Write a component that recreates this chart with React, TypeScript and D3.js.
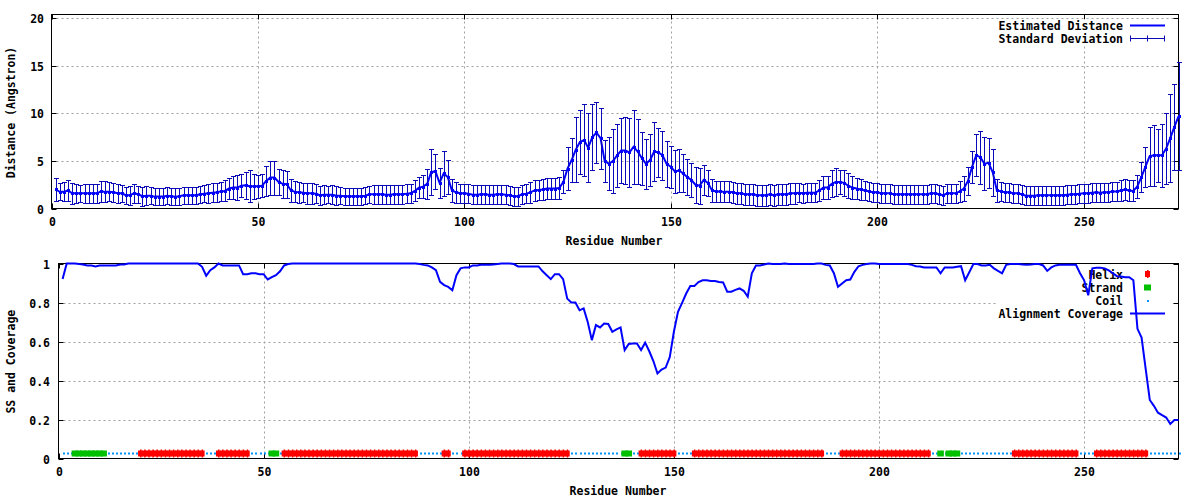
import React from 'react';
import * as d3 from 'd3';

const distanceMean = [
  2.0, 1.75, 1.75, 1.9, 1.6, 1.6, 1.6, 1.6, 1.6, 1.6,
  1.6, 1.8, 1.75, 1.75, 1.7, 1.6, 1.6, 1.4, 1.4, 1.6,
  1.5, 1.3, 1.35, 1.35, 1.25, 1.25, 1.25, 1.35, 1.3, 1.25,
  1.3, 1.4, 1.4, 1.4, 1.4, 1.5, 1.55, 1.6, 1.65, 1.7,
  1.8, 1.85, 2.1, 2.2, 2.2, 2.4, 2.45, 2.35, 2.35, 2.35,
  2.4, 2.9, 3.25, 3.25, 2.8, 2.6, 2.55, 1.9, 1.75, 1.7,
  1.65, 1.6, 1.6, 1.55, 1.4, 1.45, 1.45, 1.45, 1.35, 1.35,
  1.3, 1.3, 1.3, 1.3, 1.3, 1.35, 1.5, 1.5, 1.5, 1.5,
  1.45, 1.45, 1.5, 1.5, 1.5, 1.55, 1.6, 1.85, 2.2, 2.3,
  2.6, 3.85, 3.9, 2.7, 3.7, 3.3, 1.9, 1.7, 1.6, 1.6,
  1.55, 1.45, 1.45, 1.5, 1.5, 1.45, 1.45, 1.5, 1.5, 1.45,
  1.4, 1.3, 1.3, 1.5, 1.55, 1.7, 1.9, 1.95, 2.0, 2.1,
  2.1, 2.1, 2.15, 2.8, 4.2, 5.1, 6.2, 7.0, 7.2, 6.4,
  7.5, 8.0, 7.4, 5.0, 4.7, 5.0, 5.6, 6.1, 6.1, 5.9,
  6.5, 6.0, 5.3, 4.7, 5.1, 6.0, 5.9, 5.6, 4.7, 4.4,
  3.9, 4.0, 3.7, 3.3, 3.0, 2.5, 2.4, 3.0, 2.7, 1.9,
  1.8, 1.8, 1.75, 1.75, 1.7, 1.6, 1.6, 1.5, 1.5, 1.5,
  1.4, 1.4, 1.4, 1.5, 1.4, 1.5, 1.5, 1.5, 1.6, 1.6,
  1.65, 1.6, 1.65, 1.65, 1.65, 1.9, 2.2, 2.2, 2.6, 2.8,
  2.8, 2.7, 2.4, 2.2, 2.1, 2.0, 1.9, 1.8, 1.7, 1.7,
  1.6, 1.6, 1.6, 1.5, 1.5, 1.5, 1.5, 1.5, 1.5, 1.5,
  1.5, 1.5, 1.6, 1.6, 1.5, 1.4, 1.6, 1.6, 1.6, 1.8,
  2.1, 2.9, 4.4, 5.6, 5.4, 4.7, 4.8, 3.8, 1.9, 1.8,
  1.7, 1.7, 1.6, 1.6, 1.5, 1.35, 1.35, 1.35, 1.4, 1.4,
  1.4, 1.4, 1.4, 1.4, 1.4, 1.45, 1.5, 1.5, 1.55, 1.6,
  1.6, 1.65, 1.7, 1.65, 1.7, 1.7, 1.8, 1.8, 1.9, 2.0,
  1.9, 1.85, 2.3, 3.3, 4.4, 5.5, 5.6, 5.6, 5.6, 6.3,
  7.4, 8.6, 9.7,
];

const distanceStd = [
  1.2, 0.9, 1.0, 1.1, 1.1, 1.0, 0.9, 1.0, 1.0, 1.0,
  1.0, 1.1, 1.1, 1.0, 1.0, 1.0, 0.9, 0.9, 1.0, 1.0,
  0.9, 1.0, 1.0, 0.9, 0.9, 0.9, 0.9, 0.9, 0.9, 0.9,
  0.9, 0.9, 0.9, 0.9, 0.9, 0.9, 0.9, 1.0, 1.0, 1.0,
  1.0, 1.1, 1.1, 1.2, 1.3, 1.2, 1.4, 1.7, 1.3, 1.2,
  1.2, 1.6, 1.8, 1.8, 1.4, 1.5, 1.4, 1.2, 1.1, 1.1,
  1.0, 1.1, 1.1, 1.0, 1.0, 1.0, 0.9, 1.0, 1.0, 0.9,
  0.9, 0.9, 0.9, 0.9, 0.9, 0.9, 0.9, 1.0, 1.0, 1.0,
  1.0, 1.0, 1.0, 1.0, 1.0, 1.0, 1.0, 1.1, 1.1, 1.2,
  1.6, 2.4, 1.8, 1.6, 2.4, 1.8, 1.2, 1.1, 1.0, 1.0,
  1.0, 1.0, 1.0, 1.0, 1.0, 1.0, 1.0, 1.0, 1.0, 1.0,
  1.0, 1.0, 1.0, 1.0, 1.0, 1.1, 1.1, 1.1, 1.1, 1.1,
  1.1, 1.1, 1.2, 1.2, 2.3, 2.3, 3.4, 3.4, 3.8, 3.6,
  3.5, 3.2, 3.2, 2.2, 2.8, 3.4, 3.3, 3.4, 3.5, 3.6,
  3.9, 3.4, 2.8, 2.6, 2.7, 3.1, 2.6, 2.6, 2.4, 2.2,
  2.3, 2.3, 2.0, 1.9, 1.8, 1.9, 1.9, 1.6, 1.4, 1.2,
  1.1, 1.1, 1.1, 1.1, 1.1, 1.1, 1.1, 1.1, 1.1, 1.1,
  1.1, 1.1, 1.1, 1.1, 1.1, 1.1, 1.1, 1.1, 1.1, 1.1,
  1.0, 1.0, 1.0, 1.0, 1.0, 1.1, 1.2, 1.2, 1.4, 1.5,
  1.3, 1.4, 1.3, 1.2, 1.1, 1.1, 1.0, 1.0, 1.0, 1.0,
  1.0, 1.0, 1.0, 1.0, 1.0, 1.0, 1.0, 1.0, 1.0, 1.0,
  1.0, 1.0, 1.0, 1.0, 1.0, 1.0, 1.0, 1.0, 1.0, 1.1,
  1.3, 1.5, 1.7, 2.2, 2.8, 2.8, 2.6, 2.5, 1.2, 1.0,
  1.0, 1.0, 1.0, 1.0, 1.0, 1.0, 1.0, 1.0, 1.0, 1.0,
  1.0, 1.0, 1.0, 1.0, 1.0, 1.0, 1.0, 1.0, 1.0, 1.0,
  1.0, 1.0, 1.0, 1.0, 1.0, 1.0, 1.0, 1.0, 1.1, 1.1,
  1.1, 1.1, 1.2, 1.6, 2.1, 3.1, 3.2, 2.8, 3.3, 3.7,
  4.6, 4.5, 5.7,
];

const coverage = [
  0.92, 1.0, 1.0, 1.0, 0.997, 0.995, 0.99, 0.99, 0.985, 0.99,
  0.99, 0.99, 0.99, 0.99, 0.995, 0.995, 1.0, 1.0, 1.0, 1.0,
  1.0, 1.0, 1.0, 1.0, 1.0, 1.0, 1.0, 1.0, 1.0, 1.0,
  1.0, 1.0, 1.0, 1.0, 0.983, 0.937, 0.966, 0.98, 1.0, 0.99,
  0.99, 0.99, 0.99, 0.99, 0.945, 0.945, 0.95, 0.95, 0.945, 0.945,
  0.918, 0.93, 0.94, 0.96, 0.99, 0.997, 1.0, 1.0, 1.0, 1.0,
  1.0, 1.0, 1.0, 1.0, 1.0, 1.0, 1.0, 1.0, 1.0, 1.0,
  1.0, 1.0, 1.0, 1.0, 1.0, 1.0, 1.0, 1.0, 1.0, 1.0,
  1.0, 1.0, 1.0, 1.0, 1.0, 1.0, 1.0, 0.997, 0.993, 0.99,
  0.98, 0.966, 0.906, 0.889, 0.88, 0.863, 0.94, 0.975, 0.98, 0.98,
  0.99, 0.99, 0.993, 0.993, 0.993, 0.995, 0.997, 1.0, 1.0, 1.0,
  0.997, 0.985, 0.985, 0.985, 0.985, 0.985, 0.985, 0.96, 0.94, 0.92,
  0.945, 0.945, 0.92, 0.82, 0.8, 0.8, 0.76, 0.77, 0.7, 0.607,
  0.684, 0.672, 0.692, 0.69, 0.65, 0.662, 0.672, 0.556, 0.587, 0.59,
  0.59, 0.556, 0.594, 0.55, 0.5, 0.436, 0.456, 0.466, 0.52, 0.65,
  0.752, 0.798, 0.846, 0.885, 0.885, 0.905, 0.914, 0.914, 0.91, 0.91,
  0.905, 0.903, 0.855, 0.855, 0.865, 0.872, 0.86, 0.83, 0.95, 0.99,
  0.99, 0.995, 1.0, 0.997, 0.997, 0.997, 1.0, 0.997, 0.997, 0.997,
  0.997, 0.997, 0.997, 0.997, 1.0, 1.0, 0.993, 0.99, 0.95, 0.88,
  0.897, 0.914, 0.918, 0.957, 0.986, 0.993, 0.997, 1.0, 1.0, 0.997,
  0.997, 0.997, 0.997, 0.997, 0.997, 0.997, 0.997, 0.993, 0.986, 0.985,
  0.98, 0.98, 0.98, 0.98, 0.95, 0.98, 0.98, 0.98, 0.983, 0.986,
  0.914, 0.955, 0.997, 0.997, 0.99, 0.99, 0.993, 0.975, 0.962, 0.95,
  0.993, 0.997, 0.997, 0.997, 0.995, 0.993, 0.995, 0.997, 0.997, 0.99,
  0.962, 0.98, 0.99, 0.993, 0.993, 0.993, 0.993, 0.993, 0.95, 0.914,
  0.837, 0.975, 0.978, 0.978, 0.975, 0.965, 0.95, 0.935, 0.933, 0.93,
  0.93, 0.914, 0.665, 0.62, 0.46, 0.3, 0.27, 0.235, 0.222, 0.21,
  0.177, 0.197, 0.197,
];

const helixRanges: [number, number][] = [
  [20, 35], [39, 46], [55, 87], [94, 95], [99, 124],
  [142, 150], [155, 186], [191, 212], [233, 248], [253, 265],
];
const strandRanges: [number, number][] = [
  [4, 11], [52, 53], [138, 139], [215, 215], [217, 219],
];

const xTicks = [0, 50, 100, 150, 200, 250];
const yTicksTop = [0, 5, 10, 15, 20];
const yTicksBottom = [0, 0.2, 0.4, 0.6, 0.8, 1];

const residueCount = distanceMean.length;
const xMax = 273;
const yTopMax = 20.42;
const ssLevel = 0.03;

const FONT = '"DejaVu Sans Mono", "Liberation Mono", monospace';
const BLUE = '#0000ff';
const DARK = '#0a0ab8';
const GRID = '#a0a0a0';
const RED = '#ff0000';
const GREEN = '#00c000';
const COIL = '#0094ff';

function inRanges(r: number, ranges: [number, number][]) {
  return ranges.some(([a, b]) => r >= a && r <= b);
}

export default function App() {
  const residues = d3.range(1, residueCount + 1);

  const xT = d3.scaleLinear().domain([0, xMax]).range([51.5, 1178.5]);
  const yT = d3.scaleLinear().domain([0, yTopMax]).range([208.5, 14.5]);
  const xB = d3.scaleLinear().domain([0, xMax]).range([58.5, 1178.5]);
  const yB = d3.scaleLinear().domain([0, 1]).range([458.5, 263.5]);

  const meanLine = d3
    .line<number>()
    .x((r) => xT(r))
    .y((r) => yT(distanceMean[r - 1]))(residues) as string;

  const covLine = d3
    .line<number>()
    .x((r) => xB(r))
    .y((r) => yB(coverage[r - 1]))(residues) as string;

  const textStyle = {
    fontFamily: FONT,
    fontSize: 11.5,
    fontWeight: 700 as const,
    fill: '#000',
  };

  const tick = 5;

  const renderFrame = (
    xs: d3.ScaleLinear<number, number>,
    ys: d3.ScaleLinear<number, number>,
    yTicks: number[],
    fmt: (v: number) => string,
    labelRight: number
  ) => {
    const [x0, x1] = xs.range();
    const y0 = ys.range()[0];
    const yTop = ys(ys.domain()[1]);
    return (
      <g>
        {xTicks
          .filter((t) => t > 0)
          .map((t) => (
            <line
              key={'gx' + t}
              x1={Math.round(xs(t)) + 0.5}
              x2={Math.round(xs(t)) + 0.5}
              y1={y0}
              y2={yTop}
              stroke={GRID}
              strokeDasharray="2,3"
            />
          ))}
        {yTicks
          .filter((t) => t > 0 && ys(t) > yTop + 1)
          .map((t) => (
            <line
              key={'gy' + t}
              x1={x0}
              x2={x1}
              y1={Math.round(ys(t)) + 0.5}
              y2={Math.round(ys(t)) + 0.5}
              stroke={GRID}
              strokeDasharray="2,3"
            />
          ))}
        {xTicks.map((t) => {
          const x = Math.round(xs(t)) + 0.5;
          return (
            <g key={'tx' + t}>
              <line x1={x} x2={x} y1={y0} y2={y0 - tick} stroke="#000" />
              <line x1={x} x2={x} y1={yTop} y2={yTop + tick} stroke="#000" />
              <text x={x} y={y0 + 17.5} textAnchor="middle" style={textStyle}>
                {t}
              </text>
            </g>
          );
        })}
        {yTicks.map((t) => {
          const y = Math.round(ys(t)) + 0.5;
          return (
            <g key={'ty' + t}>
              <line x1={x0} x2={x0 + tick} y1={y} y2={y} stroke="#000" />
              <line x1={x1} x2={x1 - tick} y1={y} y2={y} stroke="#000" />
              <text x={labelRight} y={y + 4} textAnchor="end" style={textStyle}>
                {fmt(t)}
              </text>
            </g>
          );
        })}
      </g>
    );
  };

  const helixMarker = (x: number, y: number, key: string) => (
    <g key={key}>
      <rect x={x - 2.5} y={y - 3} width={5} height={6} fill={RED} />
      <rect x={x - 0.5} y={y - 4} width={1.5} height={8} fill={RED} />
    </g>
  );

  const ssY = Math.round(yB(ssLevel)) + 0.5;

  return (
    <svg
      width={1200}
      height={500}
      style={{ position: 'absolute', left: 0, top: 0, background: '#fff' }}
    >
      <rect x={0} y={0} width={1200} height={500} fill="#fff" />

      {/* ===== Top plot ===== */}
      {renderFrame(xT, yT, yTicksTop, (v) => String(v), 44)}
      <rect x={995} y={19.5} width={176} height={26} fill="#fff" />
      <rect
        x={51.5}
        y={14.5}
        width={1127}
        height={194}
        fill="none"
        stroke="#000"
      />
      <text
        transform="translate(15,112.5) rotate(-90)"
        textAnchor="middle"
        style={textStyle}
      >
        Distance (Angstron)
      </text>
      <text x={614} y={245} textAnchor="middle" style={textStyle}>
        Residue Number
      </text>
      <text x={1123} y={30} textAnchor="end" style={textStyle}>
        Estimated Distance
      </text>
      <line x1={1130} x2={1165} y1={25.5} y2={25.5} stroke={BLUE} strokeWidth={2} />
      <text x={1123} y={43} textAnchor="end" style={textStyle}>
        Standard Deviation
      </text>
      <g stroke={DARK} strokeWidth={1}>
        <line x1={1130} x2={1165} y1={38.5} y2={38.5} />
        <line x1={1130.5} x2={1130.5} y1={35.5} y2={41.5} />
        <line x1={1164.5} x2={1164.5} y1={35.5} y2={41.5} />
        <line x1={1147.5} x2={1147.5} y1={35.5} y2={41.5} />
      </g>
      <path d={meanLine} fill="none" stroke={BLUE} strokeWidth={2} />
      <g stroke={DARK} strokeWidth={1}>
        {residues.map((r) => {
          const x = Math.round(xT(r)) + 0.5;
          const m = distanceMean[r - 1];
          const s = distanceStd[r - 1];
          const yHi = Math.round(yT(m + s)) + 0.5;
          const yLo = Math.round(yT(m - s)) + 0.5;
          return (
            <g key={'eb' + r}>
              <line x1={x} x2={x} y1={yLo} y2={yHi} />
              <line x1={x - 2.5} x2={x + 2.5} y1={yHi} y2={yHi} />
              <line x1={x - 2.5} x2={x + 2.5} y1={yLo} y2={yLo} />
            </g>
          );
        })}
      </g>
      <g fill={BLUE}>
        {residues.map((r) => (
          <rect
            key={'pt' + r}
            x={Math.round(xT(r)) - 1}
            y={Math.round(yT(distanceMean[r - 1])) - 1}
            width={3}
            height={3}
          />
        ))}
      </g>

      {/* ===== Bottom plot ===== */}
      {renderFrame(xB, yB, yTicksBottom, (v) => String(v), 50)}
      <rect x={997} y={264} width={174} height={58} fill="#fff" />
      <rect
        x={58.5}
        y={263.5}
        width={1120}
        height={195}
        fill="none"
        stroke="#000"
      />
      <text
        transform="translate(15,361.7) rotate(-90)"
        textAnchor="middle"
        style={textStyle}
      >
        SS and Coverage
      </text>
      <text x={618} y={495} textAnchor="middle" style={textStyle}>
        Residue Number
      </text>
      <text x={1123} y={278.5} textAnchor="end" style={textStyle}>
        Helix
      </text>
      {helixMarker(1147.5, 274, 'kh')}
      <text x={1123} y={292} textAnchor="end" style={textStyle}>
        Strand
      </text>
      <rect x={1144} y={284.5} width={7} height={6} fill={GREEN} />
      <text x={1123} y={305} textAnchor="end" style={textStyle}>
        Coil
      </text>
      <rect x={1147} y={300} width={2} height={2} fill={COIL} />
      <text x={1123} y={318} textAnchor="end" style={textStyle}>
        Alignment Coverage
      </text>
      <line x1={1130} x2={1165} y1={313.5} y2={313.5} stroke={BLUE} strokeWidth={2} />

      {residues
        .filter((r) => !inRanges(r, helixRanges) && !inRanges(r, strandRanges))
        .map((r) => (
          <rect
            key={'c' + r}
            x={Math.round(xB(r))}
            y={ssY - 1}
            width={2}
            height={2}
            fill={COIL}
          />
        ))}
      {residues
        .filter((r) => inRanges(r, helixRanges))
        .map((r) => helixMarker(xB(r), ssY, 'h' + r))}
      {residues
        .filter((r) => inRanges(r, strandRanges))
        .map((r) => (
          <rect
            key={'s' + r}
            x={xB(r) - 3.3}
            y={ssY - 3}
            width={6.6}
            height={6}
            fill={GREEN}
          />
        ))}
      <path d={covLine} fill="none" stroke={BLUE} strokeWidth={2} />
    </svg>
  );
}
